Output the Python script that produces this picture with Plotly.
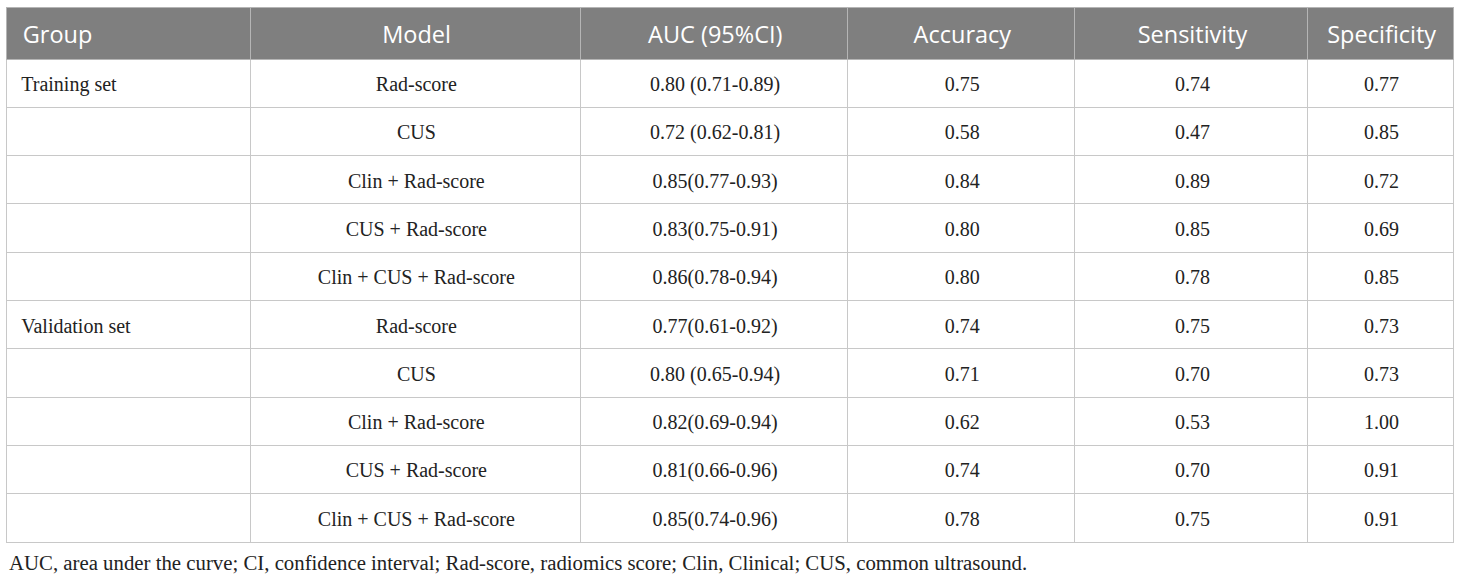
import plotly.graph_objects as go

W, H = 1460, 577

headers = ["Group", "Model", "AUC (95%CI)", "Accuracy", "Sensitivity", "Specificity"]
groups = ["Training set", "", "", "", "", "Validation set", "", "", "", ""]
models = ["Rad-score", "CUS", "Clin + Rad-score", "CUS + Rad-score", "Clin + CUS + Rad-score",
          "Rad-score", "CUS", "Clin + Rad-score", "CUS + Rad-score", "Clin + CUS + Rad-score"]
auc = ["0.80 (0.71-0.89)", "0.72 (0.62-0.81)", "0.85(0.77-0.93)", "0.83(0.75-0.91)", "0.86(0.78-0.94)",
       "0.77(0.61-0.92)", "0.80 (0.65-0.94)", "0.82(0.69-0.94)", "0.81(0.66-0.96)", "0.85(0.74-0.96)"]
accuracy = ["0.75", "0.58", "0.84", "0.80", "0.80", "0.74", "0.71", "0.62", "0.74", "0.78"]
sensitivity = ["0.74", "0.47", "0.89", "0.85", "0.78", "0.75", "0.70", "0.53", "0.70", "0.75"]
specificity = ["0.77", "0.85", "0.72", "0.69", "0.85", "0.73", "0.73", "1.00", "0.91", "0.91"]
caption = ("AUC, area under the curve; CI, confidence interval; Rad-score, radiomics score; "
           "Clin, Clinical; CUS, common ultrasound.")

col_w = [244, 330, 267, 227, 233, 145]
aligns = ["left", "center", "center", "center", "center", "center"]


def nudge(s, big, lead=""):
    # a taller invisible glyph pushes the baseline down toward the row middle;
    # trailing <br> stops the table from word-wrapping the markup
    if not s:
        return ""
    return f'<span style="font-size:{big}px">\u200a</span>{lead}{s}<br>'


head_vals = [nudge(h, 26, "\u00a0" if i == 0 else "") for i, h in enumerate(headers)]
cell_cols = [[nudge(g, 26.5, "\u00a0") for g in groups]]
for col in [models, auc, accuracy, sensitivity, specificity]:
    cell_cols.append([nudge(v, 26.5) for v in col])

fig = go.Figure(go.Table(
    domain=dict(x=[6 / W, 1453 / W], y=[0, 1 - 7 / H]),
    columnwidth=col_w,
    header=dict(
        values=head_vals,
        fill_color="#7f7f7f",
        line=dict(color="#b5b5b5", width=1),
        align=aligns,
        font=dict(family="Open Sans", size=23.5, color="white"),
        height=52,
    ),
    cells=dict(
        values=cell_cols,
        fill_color="white",
        line=dict(color="#c8c8c8", width=1),
        align=aligns,
        font=dict(family="Liberation Serif", size=20, color="#222222"),
        height=48.3,
    ),
))

fig.add_annotation(
    text=caption, xref="paper", yref="paper", x=7 / W, y=1 - 562 / H,
    xanchor="left", yanchor="middle", showarrow=False,
    font=dict(family="Liberation Serif", size=20.8, color="#222222"),
)

fig.update_layout(width=W, height=H, margin=dict(l=0, r=0, t=0, b=0),
                  paper_bgcolor="white", plot_bgcolor="white")

fig.write_html("out.html", config={"displayModeBar": False},
               post_script="document.body.style.margin='0';")
